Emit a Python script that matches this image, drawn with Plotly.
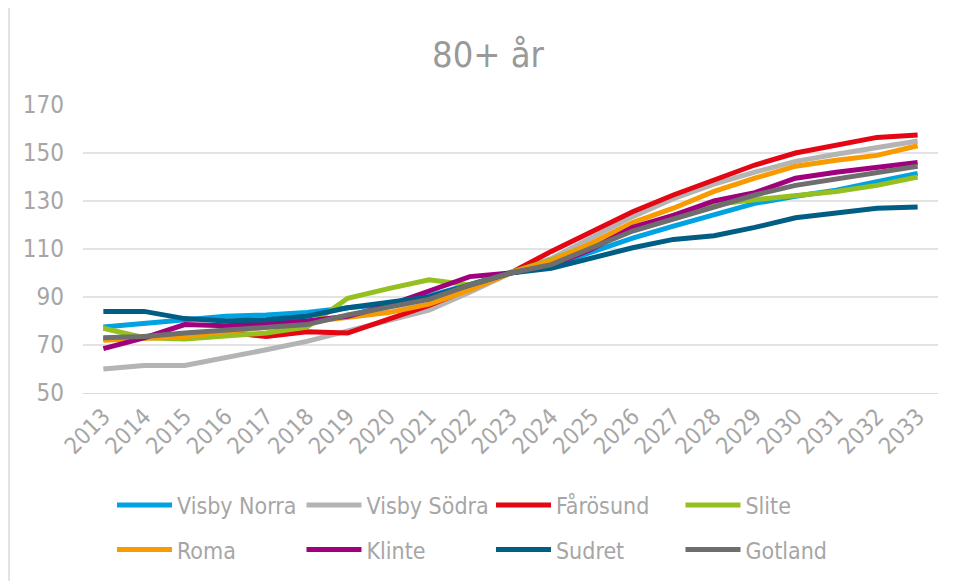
import plotly.graph_objects as go

years = [str(y) for y in range(2013, 2034)]

visby_norra = [77.5, 79, 81, 82, 82.5, 83.5, 85.5, 87, 90.5, 95, 100, 103, 109, 114.5, 119.5, 124.5, 129, 132, 134.5, 138, 141.5]
visby_sodra = [60, 61.5, 61.5, 64.5, 68, 71.5, 76, 80, 84.5, 92, 100, 106, 115, 123.5, 131, 137, 142, 146.5, 149.5, 152.5, 155]
farosund = [72.5, 73.5, 75, 75.5, 73.5, 75.5, 75, 80.5, 86.5, 93.5, 100, 109, 117, 125.5, 132.5, 138.5, 145, 150, 153, 156.5, 157.5]
slite = [77, 73, 72.5, 74, 75, 77.5, 89.5, 93.5, 97.2, 95, 100, 105.5, 112, 118.5, 124, 128.5, 130.5, 132, 134, 136.5, 140]
roma = [72, 72.5, 73.5, 75.5, 77.5, 79, 81.5, 83.5, 87, 93, 100, 105, 112.5, 121, 127, 134, 139.5, 144.5, 147, 149, 153]
klinte = [68.5, 73, 78.5, 78, 79, 80, 82, 86.5, 92.5, 98.5, 100, 103, 110, 119, 124, 130, 133.5, 139.5, 142, 144, 146]
sudret = [84, 84, 81, 80, 80.5, 82, 85.5, 87.5, 90, 95, 100, 102, 106.5, 110.5, 114, 115.5, 119, 123, 125, 127, 127.5]
gotland = [73, 73.5, 75, 76, 77, 78.5, 82.5, 85.5, 89, 95, 100, 103.5, 110.5, 117.5, 122.5, 127.5, 132.5, 136.5, 139, 142, 144.5]

names = ['Visby Norra', 'Visby Södra', 'Fårösund', 'Slite', 'Roma', 'Klinte', 'Sudret', 'Gotland']
series = [visby_norra, visby_sodra, farosund, slite, roma, klinte, sudret, gotland]
colors = ['rgb(0,162,225)', 'rgb(180,180,180)', 'rgb(228,6,19)', 'rgb(149,192,31)',
          'rgb(248,155,0)', 'rgb(160,0,125)', 'rgb(0,94,133)', 'rgb(110,110,110)']

grey_txt = '#a6a6a6'
font_family = 'DejaVu Sans Condensed, DejaVu Sans'

fig = go.Figure()
for i, (n, s, c) in enumerate(zip(names, series, colors)):
    fig.add_trace(go.Scatter(x=years, y=s, name=n, mode='lines',
                             line=dict(color=c, width=5),
                             legend='legend' if i < 4 else 'legend2'))

leg = dict(orientation='h', xanchor='left', x=0.0339, yanchor='middle',
           itemwidth=55, entrywidth=119.5, entrywidthmode='pixels',
           font=dict(size=23, color=grey_txt, family=font_family),
           bgcolor='rgba(0,0,0,0)')

# page body has an 8px default margin, so the figure is 8px smaller and shifted
fig.update_layout(
    width=949, height=573,
    margin=dict(l=75, r=19, t=97, b=188, autoexpand=False),
    paper_bgcolor='white', plot_bgcolor='white',
    font=dict(family=font_family, color=grey_txt),
    title=dict(text='80+ år', x=0.5058, xanchor='center', y=0.9197, yanchor='middle',
               font=dict(size=36, color='#999999', family=font_family)),
    xaxis=dict(type='category', range=[-0.5, 20.5], tickangle=-45,
               tickfont=dict(size=23, color=grey_txt), showgrid=False,
               showline=True, linecolor='#d9d9d9', linewidth=1, ticks='',
               automargin=False),
    yaxis=dict(range=[50, 170], dtick=20, tick0=50, tickfont=dict(size=24, color=grey_txt),
               showgrid=True, gridcolor='#e3e3e3', gridwidth=1.5, zeroline=False,
               showline=False, ticklabelstandoff=18, automargin=False),
    legend=dict(leg, y=-0.389),
    legend2=dict(leg, y=-0.544),
    showlegend=True,
)
fig.add_shape(type='line', xref='paper', yref='paper', x0=-0.0865, x1=-0.0865, y0=-0.66, y1=1.37,
              line=dict(color='#d9d9d9', width=1.5))

fig.write_html("out.html")
